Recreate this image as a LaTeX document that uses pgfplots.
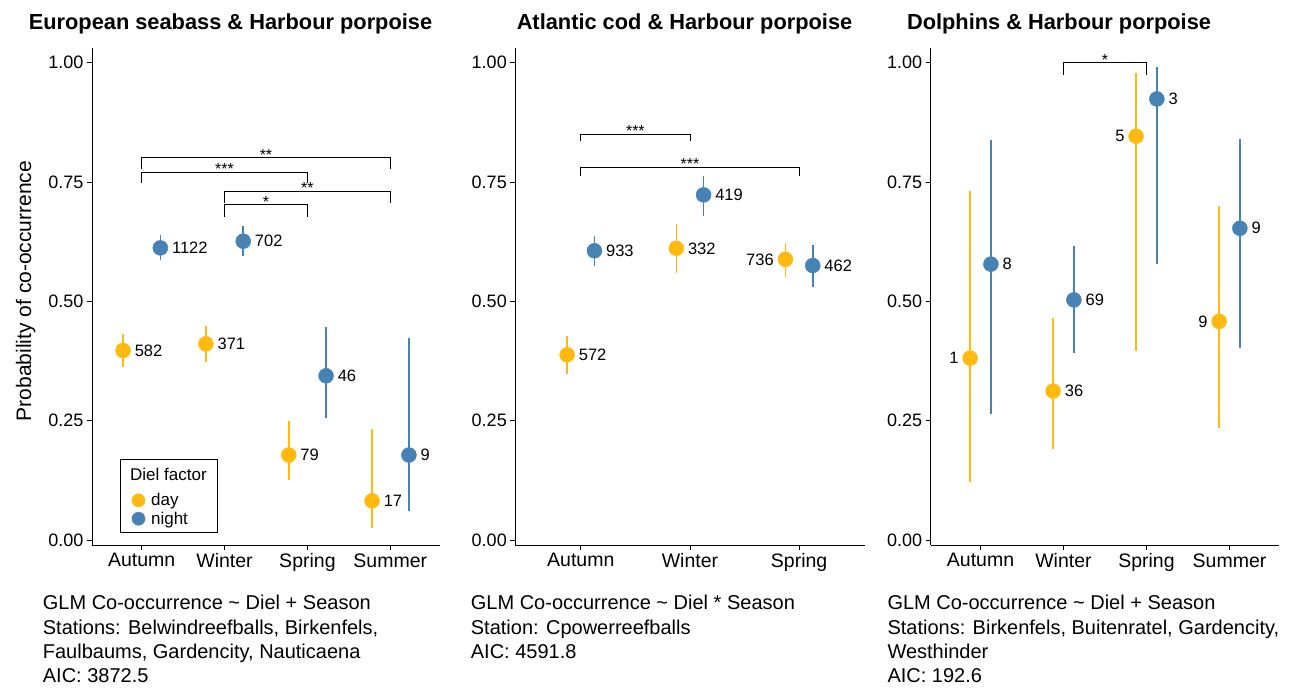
\documentclass[border=0pt]{standalone}
\usepackage{fontspec}
\setmainfont{Liberation Sans}
\usepackage{pgfplots}
\pgfplotsset{compat=1.18}
\definecolor{dayc}{RGB}{255,185,15}
\definecolor{nightc}{RGB}{70,130,180}

\pgfplotsset{
 panel/.style={
  scale only axis, height=497pt, anchor=south west,
  ymin=-0.0105, ymax=1.0308,
  axis x line*=bottom, axis y line*=left,
  axis line style={line width=0.8pt, black},
  tick align=outside, major tick length=5pt,
  tick style={line width=0.8pt, black},
  ytick={0,0.25,0.5,0.75,1}, yticklabels={0.00,0.25,0.50,0.75,1.00},
  yticklabel style={font=\fontsize{18}{18}\selectfont},
  xticklabel style={font=\fontsize{19.5}{19.5}\selectfont},
  clip=false,
  error bars/y dir=both, error bars/y explicit, error bars/error mark=none,
 },
 dayplot/.style={only marks, mark=*, mark size=7.5pt, color=dayc,
   mark options={fill=dayc, draw=dayc},
   error bars/error bar style={line width=1.6pt, dayc}},
 nightplot/.style={only marks, mark=*, mark size=7.5pt, color=nightc,
   mark options={fill=nightc, draw=nightc},
   error bars/error bar style={line width=1.6pt, nightc}},
 labR/.style={nodes near coords, point meta=explicit symbolic,
   every node near coord/.append style={anchor=west, xshift=11.5pt, inner sep=0pt, text=black, font=\fontsize{16.5}{16.5}\selectfont}},
 labL/.style={nodes near coords, point meta=explicit symbolic,
   every node near coord/.append style={anchor=east, xshift=-11.5pt, inner sep=0pt, text=black, font=\fontsize{16.5}{16.5}\selectfont}},
 brk/.style={black, line width=0.9pt, mark=none, forget plot},
}
\newcommand{\stars}[1]{{\fontsize{16}{16}\selectfont #1}}

\begin{document}
\begin{tikzpicture}[x=1pt,y=1pt]
\path[use as bounding box] (0,0) rectangle (1294,688);

% ---------------- Panel 1 ----------------
\begin{axis}[panel, at={(92pt,143pt)}, width=348pt,
  xmin=0.4, xmax=4.6, xtick={1,2,3,4}, xticklabels={Autumn,Winter,Spring,Summer},
  legend style={at={(0.1141,0.1068)}, anchor=north west, draw=none, fill=none,
    font=\fontsize{17}{17}\selectfont, inner xsep=0pt, inner ysep=0pt,
    row sep=0pt, column sep=6pt,
    nodes={inner sep=0pt, text height=13.8pt, text depth=4.6pt}},
  legend cell align=left,
  legend image code/.code={\draw[#1, mark size=6.6pt] plot coordinates {(0pt,1pt)};},
]
\addplot[dayplot, labR] table[x=x, y=y, y error plus=ep, y error minus=em, meta=lab] {
x y ep em lab
0.775 0.397 0.035 0.034 582
1.775 0.411 0.038 0.039 371
2.775 0.178 0.072 0.053 79
3.78 0.082 0.150 0.056 17
};
\addlegendentry{day}
\addplot[nightplot, labR] table[x=x, y=y, y error plus=ep, y error minus=em, meta=lab] {
x y ep em lab
1.225 0.612 0.026 0.025 1122
2.225 0.626 0.031 0.032 702
3.225 0.344 0.103 0.089 46
4.225 0.178 0.245 0.117 9
};
\addlegendentry{night}
\addplot[brk] coordinates {(1,0.778) (1,0.801) (4,0.801) (4,0.778)};
\addplot[brk] coordinates {(1,0.748) (1,0.771) (3,0.771) (3,0.748)};
\addplot[brk] coordinates {(2,0.707) (2,0.731) (4,0.731) (4,0.707)};
\addplot[brk] coordinates {(2,0.677) (2,0.702) (3,0.702) (3,0.677)};
\node[anchor=base, inner sep=0pt, yshift=-2.5pt] at (axis cs:2.5,0.801) {\stars{**}};
\node[anchor=base, inner sep=0pt, yshift=-2.5pt] at (axis cs:2,0.771) {\stars{***}};
\node[anchor=base, inner sep=0pt, yshift=-2.5pt] at (axis cs:3,0.731) {\stars{**}};
\node[anchor=base, inner sep=0pt, yshift=-2.5pt] at (axis cs:2.5,0.702) {\stars{*}};
\end{axis}
% legend frame and title
\draw[line width=0.9pt] (120.7,155.3) rectangle (217.3,228.7);
\node[anchor=base west, inner sep=0pt, font=\fontsize{17}{17}\selectfont] at (130,207.3) {Diel factor};

% ---------------- Panel 2 ----------------
\begin{axis}[panel, at={(515.3pt,143pt)}, width=349.3pt,
  xmin=0.4, xmax=3.6, xtick={1,2,3}, xticklabels={Autumn,Winter,Spring}]
\addplot[dayplot, labR] table[x=x, y=y, y error plus=ep, y error minus=em, meta=lab] {
x y ep em lab
0.875 0.388 0.039 0.040 572
1.875 0.611 0.051 0.052 332
};
\addplot[dayplot, labL] table[x=x, y=y, y error plus=ep, y error minus=em, meta=lab] {
x y ep em lab
2.875 0.588 0.034 0.036 736
};
\addplot[nightplot, labR] table[x=x, y=y, y error plus=ep, y error minus=em, meta=lab] {
x y ep em lab
1.125 0.606 0.030 0.031 933
2.125 0.723 0.040 0.044 419
3.125 0.575 0.044 0.046 462
};
\addplot[brk] coordinates {(1,0.835) (1,0.850) (2,0.850) (2,0.835)};
\addplot[brk] coordinates {(1,0.763) (1,0.781) (3,0.781) (3,0.763)};
\node[anchor=base, inner sep=0pt, yshift=-2.5pt] at (axis cs:1.5,0.850) {\stars{***}};
\node[anchor=base, inner sep=0pt, yshift=-2.5pt] at (axis cs:2,0.781) {\stars{***}};
\end{axis}

% ---------------- Panel 3 ----------------
\begin{axis}[panel, at={(930.7pt,143pt)}, width=348.6pt,
  xmin=0.4, xmax=4.6, xtick={1,2,3,4}, xticklabels={Autumn,Winter,Spring,Summer}]
\addplot[dayplot, labL] table[x=x, y=y, y error plus=ep, y error minus=em, meta=lab] {
x y ep em lab
0.875 0.381 0.350 0.259 1
2.875 0.846 0.133 0.449 5
3.875 0.458 0.241 0.223 9
};
\addplot[dayplot, labR] table[x=x, y=y, y error plus=ep, y error minus=em, meta=lab] {
x y ep em lab
1.875 0.312 0.154 0.121 36
};
\addplot[nightplot, labR] table[x=x, y=y, y error plus=ep, y error minus=em, meta=lab] {
x y ep em lab
1.125 0.578 0.261 0.313 8
2.125 0.503 0.112 0.112 69
3.125 0.924 0.066 0.346 3
4.125 0.653 0.187 0.251 9
};
\addplot[brk] coordinates {(2,0.974) (2,1.0) (3,1.0) (3,0.974)};
\node[anchor=base, inner sep=0pt, yshift=-2.5pt] at (axis cs:2.5,1.0) {\stars{*}};
\end{axis}

% ---------------- Titles ----------------
\node[anchor=base, inner sep=0pt, font=\bfseries\fontsize{21.8}{22}\selectfont] at (230.5,658.7) {European seabass \& Harbour porpoise};
\node[anchor=base, inner sep=0pt, font=\bfseries\fontsize{21.8}{22}\selectfont] at (684.5,658.7) {Atlantic cod \& Harbour porpoise};
\node[anchor=base, inner sep=0pt, font=\bfseries\fontsize{21.8}{22}\selectfont] at (1059,658.7) {Dolphins \& Harbour porpoise};

% ---------------- Y label ----------------
\node[rotate=90, anchor=base, inner sep=0pt, font=\fontsize{21}{21}\selectfont] at (31,397) {Probability of co-occurrence};

% ---------------- Captions ----------------
\begin{scope}[every node/.style={anchor=base west, inner sep=0pt, font=\fontsize{20}{20}\selectfont}]
\node at (42.7,78) {GLM Co-occurrence \textasciitilde{} Diel + Season};
\node at (42.7,53.8) {Stations: Belwindreefballs, Birkenfels,};
\node at (42.7,29.6) {Faulbaums, Gardencity, Nauticaena};
\node at (42.7,5.4) {AIC: 3872.5};
\node at (470.7,78) {GLM Co-occurrence \textasciitilde{} Diel * Season};
\node at (470.7,53.8) {Station: Cpowerreefballs};
\node at (470.7,29.6) {AIC: 4591.8};
\node at (887.3,78) {GLM Co-occurrence \textasciitilde{} Diel + Season};
\node at (887.3,53.8) {Stations: Birkenfels, Buitenratel, Gardencity,};
\node at (887.3,29.6) {Westhinder};
\node at (887.3,5.4) {AIC: 192.6};
\end{scope}
\end{tikzpicture}
\end{document}
